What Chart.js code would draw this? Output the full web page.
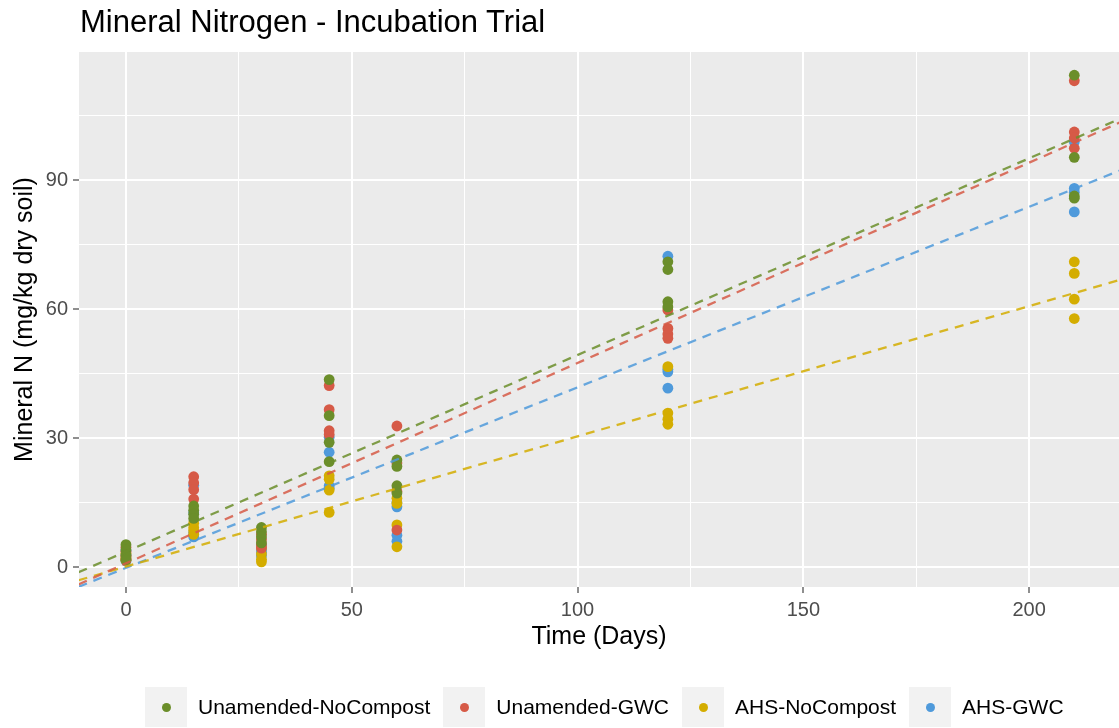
<!DOCTYPE html>
<html><head><meta charset="utf-8">
<script src="https://cdn.jsdelivr.net/npm/chart.js@4"></script>
<style>
html,body{margin:0;padding:0;background:#fff;}
#wrap{position:relative;width:1119px;height:728px;overflow:hidden;font-family:"Liberation Sans",Arial,sans-serif;}
#title{position:absolute;left:80px;top:4px;font-size:31px;line-height:36px;color:#000;white-space:nowrap;}
#legend{position:absolute;left:145px;top:687px;height:40px;display:flex;align-items:center;}
.item{display:flex;align-items:center;margin-right:13px;}
.key{width:42px;height:40px;background:#F2F2F2;display:flex;align-items:center;justify-content:center;}
.dot{width:9px;height:9px;border-radius:50%;}
.lab{font-size:21px;color:#000;margin-left:11px;white-space:nowrap;}
canvas{position:absolute;left:0;top:0;}
</style></head>
<body><div id="wrap"><canvas id="c" width="1119" height="728"></canvas><div id="title">Mineral Nitrogen - Incubation Trial</div><div id="legend"></div></div>
<script>
// ---- data ----
const times = [0, 15, 30, 45, 60, 120, 210];
const seriesNames = ["Unamended-NoCompost", "Unamended-GWC", "AHS-NoCompost", "AHS-GWC"];
const seriesColors = ["#6B8E2A", "#D65A47", "#D4AD00", "#4F9ADB"];
const unamendedNoCompost = [[5.2,4.0,2.8,1.6],[14.2,13.2,12.3,11.3],[9.2,8.2,7.0,5.6],[43.6,35.2,29.0,24.5],[24.9,23.4,18.9,17.2],[71.0,69.2,61.7,60.5],[114.4,95.3,86.3,85.8]];
const unamendedGWC = [[4.6,3.6,2.6,1.8],[21.0,19.6,18.0,15.8],[7.6,6.4,5.2,4.4],[42.2,36.6,31.7,30.8],[32.8,24.2,17.6,8.6],[59.8,55.5,54.2,53.2],[113.1,101.2,99.8,97.4]];
const ahsNoCompost = [[3.2,2.4,1.6,2.0],[10.2,9.2,8.5,7.6],[4.4,3.0,1.8,1.2],[21.2,20.4,17.9,12.7],[16.0,14.8,9.8,4.7],[46.6,35.8,34.4,33.2],[71.0,68.3,62.3,57.8]];
const ahsGWC = [[2.8,2.1,1.4,3.8],[19.0,12.6,8.0,7.0],[5.0,4.0,3.4,2.6],[30.2,26.7,18.9,18.3],[14.0,7.4,6.0,15.0],[72.3,45.4,41.6,46.0],[98.9,88.1,82.6,87.2]];
// dashed trend lines (value at each end of the x range)
const trendX = [-10.5, 220.5];
const trendUnamendedNoCompost = [-1.23, 104.45];
const trendUnamendedGWC = [-4.04, 103.6];
const trendAhsNoCompost = [-3.08, 66.9];
const trendAhsGWC = [-4.61, 92.4];
// ticks
const xMajor = [0, 50, 100, 150, 200];
const xMinor = [25, 75, 125, 175];
const yMajor = [0, 30, 60, 90];
const yMinor = [15, 45, 75, 105];

// ---- build ----
const groups = [unamendedNoCompost, unamendedGWC, ahsNoCompost, ahsGWC];
const trends = [trendUnamendedNoCompost, trendUnamendedGWC, trendAhsNoCompost, trendAhsGWC];
function pts(vals){ const out=[]; times.forEach((t,i)=>vals[i].forEach(v=>out.push({x:t,y:v}))); return out; }
function hexA(h,a){const r=parseInt(h.slice(1,3),16),g=parseInt(h.slice(3,5),16),b=parseInt(h.slice(5,7),16);return `rgba(${r},${g},${b},${a})`;}

const datasets = [];
trends.forEach((tr,i)=>datasets.push({
  label: seriesNames[i]+' trend', data: trendX.map((x,j)=>({x:x,y:tr[j]})),
  showLine:true, pointRadius:0, borderColor:hexA(seriesColors[i],0.85), borderWidth:2.3,
  borderDash:[9,7], fill:false, order:0
}));
groups.forEach((g,i)=>datasets.push({
  label: seriesNames[i], data: pts(g), backgroundColor: seriesColors[i], borderWidth:0,
  pointRadius:5.4, pointHoverRadius:5.4, showLine:false, order:1
}));

const bg = {id:'bg', beforeDraw(chart){const {ctx, chartArea:a}=chart; ctx.save(); ctx.fillStyle='#EBEBEB'; ctx.fillRect(a.left,a.top,a.right-a.left,a.bottom-a.top); ctx.restore();}};

const isMajX = v => xMajor.includes(v);
const isMajY = v => yMajor.includes(v);

new Chart(document.getElementById('c'), {
  type:'scatter',
  data:{datasets},
  plugins:[bg],
  options:{
    responsive:false, animation:false, devicePixelRatio:1,
    layout:{autoPadding:false, padding:{top:52,left:0,right:0,bottom:0}},
    plugins:{legend:{display:false}, tooltip:{enabled:false}, title:{display:false}},
    scales:{
      x:{type:'linear', min:-10.4, max:219.9,
        afterBuildTicks:s=>{s.ticks=[...xMajor,...xMinor].sort((a,b)=>a-b).map(v=>({value:v}));},
        afterFit:s=>{s.height=141; s.paddingLeft=0; s.paddingRight=0;},
        ticks:{autoSkip:false, maxRotation:0, padding:5, color:'#4D4D4D', font:{family:'"Liberation Sans", Arial, sans-serif', size:20},
          callback:v=>isMajX(v)?String(v):''},
        grid:{color:'#FFFFFF', lineWidth:c=>isMajX(c.tick.value)?2:1, tickLength:6,
          tickColor:c=>isMajX(c.tick.value)?'#333333':'rgba(0,0,0,0)', tickWidth:1.1},
        border:{display:false},
        title:{display:true, text:'Time (Days)', color:'#000', font:{family:'"Liberation Sans", Arial, sans-serif', size:25}, padding:{top:0,bottom:76}}
      },
      y:{type:'linear', min:-4.65, max:119.8,
        afterBuildTicks:s=>{s.ticks=[...yMajor,...yMinor].sort((a,b)=>a-b).map(v=>({value:v}));},
        afterFit:s=>{s.width=79; s.paddingTop=0; s.paddingBottom=0;},
        ticks:{autoSkip:false, padding:5, color:'#4D4D4D', font:{family:'"Liberation Sans", Arial, sans-serif', size:20},
          callback:v=>isMajY(v)?String(v):''},
        grid:{color:'#FFFFFF', lineWidth:c=>isMajY(c.tick.value)?2:1, tickLength:6,
          tickColor:c=>isMajY(c.tick.value)?'#333333':'rgba(0,0,0,0)', tickWidth:1.1},
        border:{display:false},
        title:{display:true, text:'Mineral N (mg/kg dry soil)', color:'#000', font:{family:'"Liberation Sans", Arial, sans-serif', size:25}, padding:{top:10,bottom:0}}
      }
    }
  }
});

// HTML legend
const lg = document.getElementById('legend');
seriesNames.forEach((n,i)=>{
  const it=document.createElement('div'); it.className='item';
  const k=document.createElement('div'); k.className='key';
  const d=document.createElement('div'); d.className='dot'; d.style.background=seriesColors[i];
  k.appendChild(d);
  const l=document.createElement('span'); l.className='lab'; l.textContent=n;
  it.appendChild(k); it.appendChild(l); lg.appendChild(it);
});
</script>
</body></html>
